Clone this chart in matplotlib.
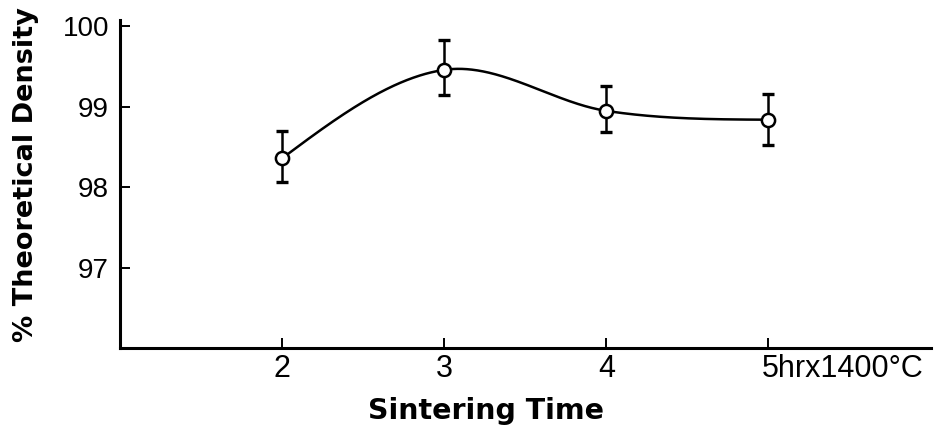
import numpy as np
import matplotlib
matplotlib.use("Agg")
import matplotlib.pyplot as plt
from matplotlib import font_manager
from matplotlib.transforms import ScaledTranslation

# sintering time (hr) and measured density with error bar ends
times = [2, 3, 4, 5]
density = [98.36, 99.46, 98.95, 98.84]
density_lo = [98.06, 99.15, 98.69, 98.53]
density_hi = [98.70, 99.83, 99.26, 99.16]

xtick_vals = [2, 3, 4, 5]
xtick_labels = ["2", "3", "4", "5hrx1400\u00b0C"]
ytick_vals = [97, 98, 99, 100]
ytick_labels = ["97", "98", "99", "100"]


def pick_font(candidates):
    names = {f.name for f in font_manager.fontManager.ttflist}
    for c in candidates:
        if c in names:
            return c
    return "DejaVu Sans"


tick_font = pick_font(["Liberation Sans Narrow", "DejaVu Sans Condensed", "Liberation Sans"])


def smooth_curve(x, y, n=200):
    # cubic Hermite through the points, Catmull-Rom slopes inside
    x = np.asarray(x, float)
    y = np.asarray(y, float)
    m = np.zeros_like(y)
    m[1:-1] = (y[2:] - y[:-2]) / (x[2:] - x[:-2])
    m[0] = (3 * (y[1] - y[0]) / (x[1] - x[0]) - m[1]) / 2
    m[-1] = (3 * (y[-1] - y[-2]) / (x[-1] - x[-2]) - m[-2]) / 2
    xs, ys = [], []
    for i in range(len(x) - 1):
        h = x[i + 1] - x[i]
        t = np.linspace(0, 1, n)
        h00 = 2 * t**3 - 3 * t**2 + 1
        h10 = t**3 - 2 * t**2 + t
        h01 = -2 * t**3 + 3 * t**2
        h11 = t**3 - t**2
        xs.append(x[i] + t * h)
        ys.append(h00 * y[i] + h10 * h * m[i] + h01 * y[i + 1] + h11 * h * m[i + 1])
    return np.concatenate(xs), np.concatenate(ys)


fig = plt.figure(figsize=(9.48, 4.45), dpi=100)
ax = fig.add_axes([0.1266, 0.218, 0.855, 0.737])

cx, cy = smooth_curve(times, density)
ax.plot(cx, cy, color="black", lw=1.8, zorder=2)

yerr = [np.subtract(density, density_lo), np.subtract(density_hi, density)]
ax.errorbar(times, density, yerr=yerr, fmt="none", ecolor="black",
            elinewidth=1.8, capsize=4.5, capthick=2.4, zorder=3)
ax.plot(times, density, "o", ms=9.5, mfc="white", mec="black", mew=1.8, zorder=4)

ax.set_xlim(1, 6)
ax.set_ylim(96, 100.08)

for side in ["top", "right"]:
    ax.spines[side].set_visible(False)
for side in ["left", "bottom"]:
    ax.spines[side].set_linewidth(2.2)

ax.set_xticks(xtick_vals)
ax.set_xticklabels(xtick_labels, fontfamily=tick_font, fontsize=22)
ax.set_yticks(ytick_vals)
ax.set_yticklabels(ytick_labels, fontfamily=tick_font, fontsize=20)
ax.tick_params(axis="both", direction="in", length=7, width=1.4)
ax.tick_params(axis="x", pad=4)
ax.tick_params(axis="y", pad=8)

# the last label starts just left of its tick
last = ax.get_xticklabels()[-1]
last.set_horizontalalignment("left")
last.set_transform(last.get_transform() + ScaledTranslation(-0.07, 0, fig.dpi_scale_trans))

ax.set_xlabel("Sintering Time", fontsize=20.5, fontweight="bold")
ax.xaxis.set_label_coords(0.452, -0.15)
ax.set_ylabel("% Theoretical Density", fontsize=19.5, fontweight="bold")
ax.yaxis.set_label_coords(-0.1, 0.53)

fig.savefig("out.png", dpi=100)
